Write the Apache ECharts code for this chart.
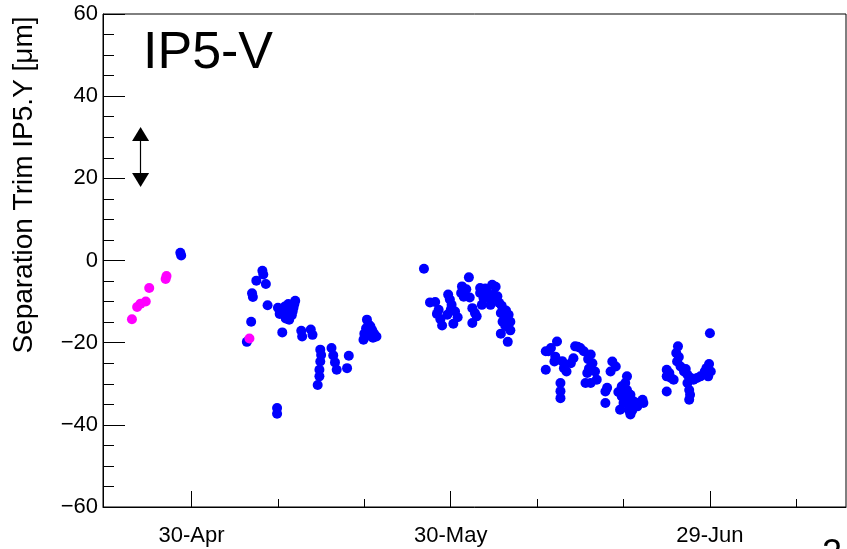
<!DOCTYPE html>
<html>
<head>
<meta charset="utf-8">
<script src="https://cdn.jsdelivr.net/npm/echarts@6/dist/echarts.min.js"></script>
<style>
  html, body { margin: 0; padding: 0; background: #fff; }
  #sepTrim { width: 847px; height: 549px; }
</style>
</head>
<body>
<div id="sepTrim"></div>
<script>
// x = days since 30-Apr, y = separation trim [um]
var majorTicks = [0, 30, 60];
var majorLabels = ['30-Apr', '30-May', '29-Jun'];
var minorTicks = [10, 20, 40, 50, 70];
var xRange = [-10.25, 75.75];

var magentaPts = [
    [-6.9, -14.3], [-6.3, -11.3], [-5.9, -10.5], [-5.3, -10.0], [-4.9, -6.7],
    [-3.0, -4.5], [-2.9, -3.8], [6.7, -19.0]
];

var bluePts = [
    // end of April / early May
    [-1.3, 1.9], [-1.2, 1.2],
    [6.4, -19.8], [6.9, -14.9], [7.0, -8.0], [7.1, -8.9], [7.5, -4.9], [8.2, -2.5], [8.3, -3.4], [8.6, -5.7], [8.8, -10.9],
    [9.9, -35.9], [9.9, -37.3],
    [10.0, -11.5], [10.4, -12.6], [10.8, -11.2], [11.2, -10.6], [11.4, -12.2], [11.8, -11.5], [12.0, -9.8], [11.6, -13.3], [10.9, -14.1], [11.3, -14.4], [10.5, -17.5],
    [10.2, -13.0], [11.0, -12.0], [11.7, -12.4], [11.9, -10.6], [10.6, -11.8],
    [12.7, -17.1], [12.8, -18.5], [13.8, -16.8], [14.0, -18.1],
    [14.9, -21.7], [15.0, -23.0], [14.9, -24.6], [14.8, -26.6], [14.8, -28.2], [14.6, -30.3],
    [16.2, -21.3], [16.4, -23.1], [16.6, -24.8], [16.8, -26.6],
    [18.2, -23.2], [18.0, -26.2],
    [20.3, -14.4], [20.5, -15.6], [20.2, -16.5], [20.9, -16.9], [21.1, -17.7], [21.4, -18.5], [19.9, -19.3], [20.0, -17.8], [20.6, -18.3],
    [20.7, -16.0], [21.0, -18.8], [20.4, -17.3],
    // end of May
    [26.9, -2.0], [32.1, -4.1],
    [27.6, -10.2], [28.2, -10.1], [28.4, -13.0], [28.8, -14.3], [29.0, -15.8], [28.6, -12.0],
    [29.7, -8.3], [29.9, -9.5], [30.1, -10.8], [30.0, -12.0],
    [29.6, -13.2], [30.3, -15.4], [30.5, -12.4], [30.8, -13.8],
    [31.3, -6.3], [31.2, -7.9], [31.5, -8.8], [31.8, -7.0], [32.2, -9.0],
    [32.5, -11.6], [32.8, -12.8], [32.5, -15.2],
    [33.4, -6.7], [33.4, -7.9], [33.6, -10.8], [33.0, -13.6], [33.8, -9.2], [34.0, -6.8],
    [34.2, -7.5], [34.6, -9.5], [34.6, -10.8],
    [34.8, -5.9], [35.0, -8.3], [35.4, -8.7], [35.6, -10.3], [35.2, -6.4], [35.9, -11.0],
    [35.8, -12.8], [36.2, -13.6], [36.7, -13.2], [36.9, -14.9], [36.0, -14.9], [36.6, -16.2], [36.9, -17.0], [35.8, -17.8], [36.6, -19.8],
    [36.3, -15.8], [36.4, -12.2],
    // June
    [42.3, -19.7], [41.0, -22.1], [41.3, -22.1], [42.1, -23.4], [41.0, -26.6], [42.9, -24.5], [43.4, -27.0],
    [41.6, -21.3], [42.0, -24.6],
    [43.1, -26.2], [43.9, -25.0], [44.2, -23.8],
    [44.4, -20.9], [45.0, -21.3], [45.4, -22.1], [44.7, -21.0],
    [42.7, -29.8], [42.7, -31.8], [42.7, -33.5],
    [46.2, -22.9], [46.4, -25.0], [45.8, -27.4], [45.6, -29.8], [46.2, -29.8], [46.7, -27.0], [46.9, -29.0],
    [45.9, -24.0], [46.0, -26.3],
    [48.7, -24.6], [49.1, -25.8], [48.5, -27.0],
    [48.1, -31.0], [47.9, -31.9], [47.9, -34.7],
    [50.4, -28.2], [50.2, -29.8], [50.4, -31.5], [50.8, -32.7], [49.8, -33.1], [50.4, -33.9], [51.2, -34.3],
    [52.2, -33.9], [51.6, -35.5], [50.6, -36.3], [49.6, -36.3], [50.8, -37.5], [50.0, -34.7], [52.3, -34.7], [50.8, -37.1],
    [49.8, -30.6], [50.6, -35.0], [51.0, -36.5], [51.8, -34.6], [49.4, -32.0],
    // end of June
    [55.0, -26.6], [55.0, -28.2], [55.0, -31.9], [55.5, -28.6], [55.8, -29.0], [55.3, -27.4],
    [56.3, -20.9], [56.1, -22.5], [56.2, -24.6], [56.6, -25.8], [57.0, -27.0], [56.4, -23.5], [57.2, -26.4],
    [57.4, -27.8], [57.8, -28.6], [58.1, -29.0], [58.5, -28.6],
    [58.9, -28.2], [59.4, -27.0], [59.8, -28.2], [60.1, -27.0], [59.9, -25.2], [59.6, -26.2],
    [57.6, -31.5], [57.6, -33.9], [57.4, -29.8], [57.7, -32.7],
    [60.0, -17.7]
];

// scale arrow in the upper left corner
var arrowDay = -5.9;
var arrowEnds = [19.6, 30.8];

var fontFam = '"Liberation Sans", Arial, Helvetica, sans-serif';

function minusFmt(v) {
    return v < 0 ? '\u2212' + (-v) : String(v);
}

var option = {
    animation: false,
    backgroundColor: '#fff',
    grid: {
        left: 103, top: 14, right: 1, bottom: 42,
        show: true, borderColor: '#000', borderWidth: 1, backgroundColor: 'transparent'
    },
    xAxis: [
        {
            type: 'value', min: xRange[0], max: xRange[1],
            splitLine: { show: false },
            axisLine: { show: true, onZero: false, lineStyle: { color: '#000', width: 1 } },
            axisTick: { show: true, inside: true, length: 16, customValues: majorTicks, lineStyle: { color: '#000' } },
            axisLabel: {
                customValues: majorTicks, margin: 18, color: '#000', fontSize: 22, fontFamily: fontFam,
                formatter: function (v) {
                    var i = majorTicks.indexOf(v);
                    return i >= 0 ? majorLabels[i] : '';
                }
            }
        },
        {
            type: 'value', min: xRange[0], max: xRange[1], position: 'bottom', offset: 0,
            splitLine: { show: false },
            axisLine: { show: false, onZero: false },
            axisTick: { show: true, inside: true, length: 8, customValues: minorTicks, lineStyle: { color: '#000' } },
            axisLabel: { show: false }
        }
    ],
    yAxis: {
        type: 'value', min: -60, max: 60, interval: 20,
        splitLine: { show: false },
        axisLine: { show: true, onZero: false, lineStyle: { color: '#000', width: 1 } },
        axisTick: { show: true, inside: true, length: 22, lineStyle: { color: '#000' } },
        minorTick: { show: true, splitNumber: 4, length: 11, lineStyle: { color: '#000' } },
        axisLabel: { margin: 5, color: '#000', fontSize: 22, fontFamily: fontFam, formatter: minusFmt }
    },
    graphic: [
        {
            type: 'text', x: 24, y: 185, rotation: Math.PI / 2,
            style: {
                text: 'Separation Trim IP5.Y [\u03bcm]', fill: '#000', font: '28px ' + fontFam,
                textAlign: 'center', textVerticalAlign: 'middle'
            }
        },
        {
            type: 'text', x: 143, y: 54,
            style: { text: 'IP5-V', fill: '#000', font: '52px ' + fontFam, textAlign: 'left', textVerticalAlign: 'middle' }
        },
        {
            type: 'text', x: 822, y: 537,
            style: { text: '2', fill: '#000', font: '36px ' + fontFam, textAlign: 'left', textVerticalAlign: 'top' }
        }
    ],
    series: [
        {
            name: 'blue', type: 'scatter', xAxisIndex: 0,
            symbol: 'circle', symbolSize: 10,
            itemStyle: { color: '#0000ff', opacity: 1 },
            data: bluePts
        },
        {
            name: 'magenta', type: 'scatter', xAxisIndex: 0,
            symbol: 'circle', symbolSize: 10,
            itemStyle: { color: '#ff00ff', opacity: 1 },
            data: magentaPts
        },
        {
            name: 'arrow', type: 'line', xAxisIndex: 0, data: [],
            markLine: {
                silent: true, animation: false,
                symbol: ['triangle', 'triangle'], symbolSize: [17, 14],
                label: { show: false },
                lineStyle: { color: '#000', width: 1.2, type: 'solid' },
                data: [[{ coord: [arrowDay, arrowEnds[0]] }, { coord: [arrowDay, arrowEnds[1]] }]]
            }
        }
    ]
};

var sepTrimChart = echarts.init(document.getElementById('sepTrim'));
sepTrimChart.setOption(option);
</script>
</body>
</html>
